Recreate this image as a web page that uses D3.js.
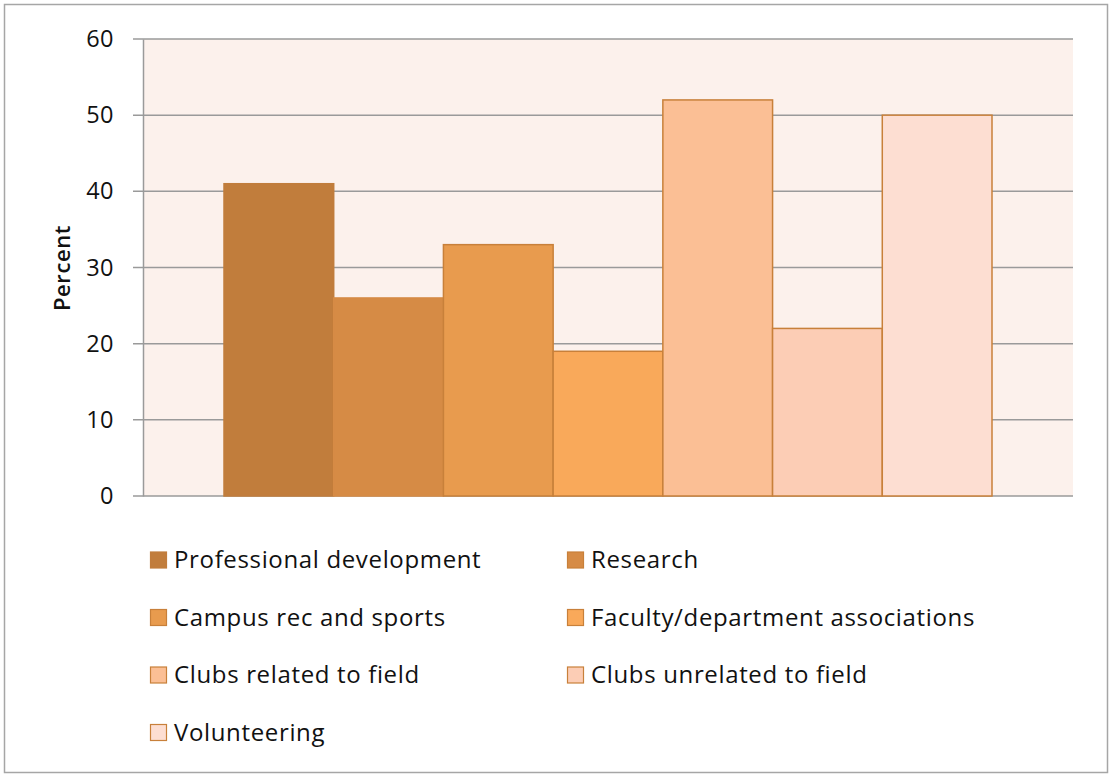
<!DOCTYPE html>
<html><head><meta charset="utf-8">
<script src="https://cdn.jsdelivr.net/npm/d3@7"></script>
<style>body{margin:0;background:#fff;}svg{display:block;font-family:"Open Sans",Lato,sans-serif;}</style>
</head><body>
<script>
const categories = ["Professional development","Research","Campus rec and sports","Faculty/department associations","Clubs related to field","Clubs unrelated to field","Volunteering"];
const values = [41,26,33,19,52,22,50];
const colors = ["#C17D3C","#D68B45","#E89B4E","#F9A95A","#FBBF95","#FCCDB5","#FDDED2"];
const yTicks = [0,10,20,30,40,50,60];

const W=1110,H=777;
const svg=d3.select("body").append("svg").attr("width",W).attr("height",H);
svg.append("rect").attr("x",4.5).attr("y",4.5).attr("width",1103).attr("height",768).attr("fill","#fff").attr("stroke","#a6a6a6").attr("stroke-width",1.5);

const L=143,R=1073,T=39,B=496;
const y=d3.scaleLinear().domain([0,60]).range([B,T]);
const groupW=768;
const x=d3.scaleBand().domain(categories).range([L+(R-L-groupW)/2,L+(R-L+groupW)/2]).padding(0);

svg.append("rect").attr("x",L).attr("y",T).attr("width",R-L).attr("height",B-T).attr("fill","#FCF1EC");

svg.append("g").selectAll("line").data(yTicks).join("line")
  .attr("x1",L-10).attr("x2",R).attr("y1",d=>y(d)).attr("y2",d=>y(d))
  .attr("stroke","#9a9a9a").attr("stroke-width",1.5);

const ya=svg.append("g").attr("transform",`translate(${L},0)`).call(d3.axisLeft(y).tickValues(yTicks).tickSize(0).tickPadding(29));
ya.attr("font-size",null).attr("font-family",null);
ya.select(".domain").attr("stroke","#9a9a9a").attr("stroke-width",1.5);
ya.selectAll("text").style("font-size","23.5px").style("letter-spacing","0.5px").attr("fill","#111").style("font-family","'Open Sans',sans-serif");

svg.append("g").selectAll("rect").data(categories).join("rect")
  .attr("x",d=>x(d)).attr("width",x.bandwidth())
  .attr("y",(d,i)=>y(values[i])).attr("height",(d,i)=>B-y(values[i]))
  .attr("fill",(d,i)=>colors[i])
  .attr("stroke",(d,i)=>i<2?colors[i]:"#C8803A").attr("stroke-width",1.5);

svg.append("text").attr("transform",`translate(70,268) rotate(-90)`).attr("text-anchor","middle")
  .style("font-size","22px").style("letter-spacing","0.6px").attr("font-weight",600).attr("fill","#111").text("Percent");

const lg=svg.append("g").selectAll("g").data(categories).join("g")
  .attr("transform",(d,i)=>`translate(${i%2===0?150:567},${560+Math.floor(i/2)*57.5})`);
lg.append("rect").attr("x",0.5).attr("y",-8).attr("width",16).attr("height",16)
  .attr("fill",(d,i)=>colors[i]).attr("stroke",(d,i)=>i<1?colors[i]:"#C8803A").attr("stroke-width",1.2);
lg.append("text").attr("x",24).attr("y",0).attr("dy","0.35em").style("font-size","24px").style("letter-spacing","0.65px").attr("fill","#111").text(d=>d);
</script>
</body></html>
